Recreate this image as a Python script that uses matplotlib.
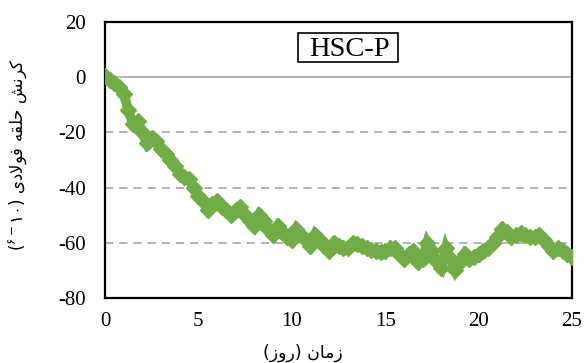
import matplotlib
matplotlib.use("Agg")
import matplotlib.pyplot as plt
from matplotlib.patches import Rectangle

# ---------------- data ----------------
days = [i * 0.25 for i in range(101)]
strain = [0.5, -1, -2, -3.5, -6, -12, -17, -16, -20, -24,
          -22, -23, -26, -28, -30, -32, -35, -36, -37, -40,
          -43, -45, -48, -46, -45, -47, -48, -50, -48, -47,
          -50, -52, -54, -50, -52, -55, -57, -54, -56, -58,
          -59, -55, -57, -59, -61, -57, -59, -61, -63, -60,
          -61, -62, -62, -60, -60.5, -61, -62, -62.5, -63, -63.5,
          -63, -62, -62, -64, -66, -64, -63, -67, -66, -60,
          -63, -67, -69, -62, -66, -70, -67, -64, -66, -65,
          -64, -63, -62, -60, -58, -55, -56, -58, -57, -56.5,
          -57, -58, -58, -57, -59, -61, -63, -62, -63, -64,
          -65]
x_ticks = [0, 5, 10, 15, 20, 25]
y_ticks = [-80, -60, -40, -20, 0, 20]
series_name = "HSC-P"
xlabel_fa = "زمان (روز)"
ylabel_fa = "کرنش حلقه فولادی"

# ------------- simple Persian shaper (visual order) -------------
FORMS = {
    'ا': ('\uFE8D', '\uFE8E'), 'د': ('\uFEA9', '\uFEAA'),
    'ر': ('\uFEAD', '\uFEAE'), 'ز': ('\uFEAF', '\uFEB0'),
    'و': ('\uFEED', '\uFEEE'),
    'ح': ('\uFEA1', '\uFEA2', '\uFEA3', '\uFEA4'),
    'ش': ('\uFEB5', '\uFEB6', '\uFEB7', '\uFEB8'),
    'ف': ('\uFED1', '\uFED2', '\uFED3', '\uFED4'),
    'ق': ('\uFED5', '\uFED6', '\uFED7', '\uFED8'),
    'ل': ('\uFEDD', '\uFEDE', '\uFEDF', '\uFEE0'),
    'م': ('\uFEE1', '\uFEE2', '\uFEE3', '\uFEE4'),
    'ن': ('\uFEE5', '\uFEE6', '\uFEE7', '\uFEE8'),
    'ه': ('\uFEE9', '\uFEEA', '\uFEEB', '\uFEEC'),
    'ی': ('\uFBFC', '\uFBFD', '\uFBFE', '\uFBFF'),
    'ک': ('\uFB8E', '\uFB8F', '\uFB90', '\uFB91'),
}


def shape(text):
    chars = list(text)
    out = []
    i = 0
    n = len(chars)
    while i < n:
        c = chars[i]
        if c not in FORMS:
            out.append(c)
            i += 1
            continue
        prev = chars[i - 1] if i > 0 else None
        join_prev = prev in FORMS and len(FORMS[prev]) == 4
        if c == 'ل' and i + 1 < n and chars[i + 1] == 'ا':
            out.append('\uFEFC' if join_prev else '\uFEFB')
            i += 2
            continue
        nxt = chars[i + 1] if i + 1 < n else None
        f = FORMS[c]
        join_next = len(f) == 4 and nxt in FORMS
        if join_prev and join_next:
            g = f[3]
        elif join_prev:
            g = f[1]
        elif join_next:
            g = f[2]
        else:
            g = f[0]
        out.append(g)
        i += 1
    vis = ''.join(reversed(out))
    vis = vis.replace('(', '\0').replace(')', '(').replace('\0', ')')
    return vis


# ---------------- figure ----------------
plt.rcParams['font.family'] = ['Liberation Serif', 'DejaVu Sans']
plt.rcParams['mathtext.fontset'] = 'dejavusans'
plt.rcParams['axes.unicode_minus'] = False

fig = plt.figure(figsize=(5.86, 3.63), dpi=100)
ax = fig.add_axes([105 / 586, 65 / 363, 467 / 586, 276 / 363])

green = '#70AD47'
ax.plot(days, strain, color=green, lw=7, marker='D', ms=8.5,
        mec=green, mfc=green, solid_joinstyle='miter', zorder=3)

ax.set_xlim(0, 25)
ax.set_ylim(-80, 20)
ax.set_xticks(x_ticks)
ax.set_yticks(y_ticks)
ax.tick_params(length=0, labelsize=15)
ax.tick_params(axis='x', pad=10)
ax.tick_params(axis='y', pad=14)
for s in ax.spines.values():
    s.set_color('black')
    s.set_linewidth(1.6)

for yv in y_ticks:
    if yv == 0:
        ax.axhline(yv, color='#A6A6A6', lw=1.2, zorder=1)
    elif -80 < yv < 20:
        ax.axhline(yv, color='#A6A6A6', lw=1.2, ls=(0, (5, 3.5)), zorder=1)

ax.add_patch(Rectangle((193 / 467, 236 / 276), 100 / 467, 29 / 276,
                       transform=ax.transAxes, fc='white', ec='black',
                       lw=1.2, zorder=5))
ax.text(244 / 467, 242 / 276, series_name, transform=ax.transAxes,
        ha='center', va='baseline', fontsize=20.5,
        fontfamily='Liberation Serif', zorder=6)

fig.text(303 / 586, 10 / 363, shape(xlabel_fa), ha='center', va='center',
         fontsize=12.5, fontfamily=['DejaVu Sans'])

ylab = '(' + r'$^{۶-}$' + '۱۰) ' + shape(ylabel_fa)
fig.text(18 / 586, 1 - 155 / 363, ylab, ha='center', va='center',
         rotation=90, fontsize=12, fontfamily=['DejaVu Sans'])

fig.savefig('out.png', dpi=100)
